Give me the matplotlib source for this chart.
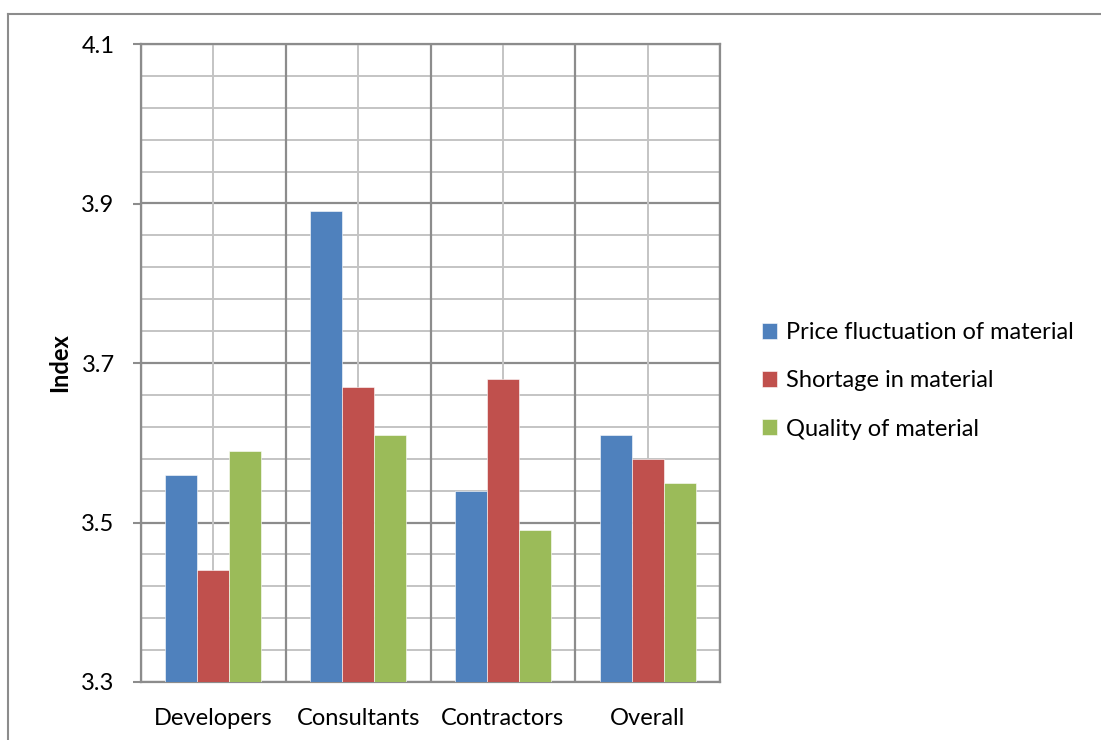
import matplotlib
matplotlib.use("Agg")
import matplotlib.pyplot as plt
import numpy as np
from matplotlib.lines import Line2D

categories = ["Developers", "Consultants", "Contractors", "Overall"]
series_names = ["Price fluctuation of material", "Shortage in material", "Quality of material"]
price = [3.56, 3.89, 3.54, 3.61]
shortage = [3.44, 3.67, 3.68, 3.58]
quality = [3.59, 3.61, 3.49, 3.55]
yticks = [3.3, 3.5, 3.7, 3.9, 4.1]
colors = ["#4F81BD", "#C0504D", "#9BBB59"]

plt.rcParams['font.family'] = ['Lato', 'DejaVu Sans']
FS = 17

fig = plt.figure(figsize=(11.01, 7.40), dpi=100)
ax = fig.add_axes([141/1101, 1-682/740, (720-141)/1101, (682-44)/740])

x = np.arange(len(categories))
bw = 32/145
for i, (vals, name, c) in enumerate(zip([price, shortage, quality], series_names, colors)):
    ax.bar(x + (i-1)*bw, np.array(vals) - 3.3, bottom=3.3, width=bw, color=c,
           edgecolor="white", linewidth=0.4, label=name, zorder=3)

ax.set_xlim(-0.5, len(categories)-0.5)
ax.set_ylim(3.3, 4.1)

# gridlines
for v in np.arange(3.3, 4.1001, 0.04):
    major = any(abs(v - t) < 1e-6 for t in yticks)
    ax.axhline(v, color="#8c8c8c" if major else "#c4c4c4", lw=1.6 if major else 1.4, zorder=1)
for k in range(len(categories)+1):
    ax.axvline(k-0.5, color="#8c8c8c", lw=1.6, zorder=1)
for k in range(len(categories)):
    ax.axvline(k, color="#c4c4c4", lw=1.4, zorder=1)

ax.set_yticks(yticks)
ax.set_yticklabels([f"{t:.1f}" for t in yticks], fontsize=FS)
ax.set_xticks(x)
ax.set_xticklabels(categories, fontsize=FS)
ax.tick_params(axis='y', length=6, width=1.5, color="#8c8c8c", pad=13)
ax.tick_params(axis='x', length=0, pad=19)
for s in ax.spines.values():
    s.set_color("#8c8c8c")
    s.set_linewidth(1.6)
ax.set_ylabel("Index", fontsize=FS, fontweight="bold", labelpad=7)

ax.legend(loc="center left", bbox_to_anchor=(762/1101, 1-381/740), bbox_transform=fig.transFigure,
          frameon=False, fontsize=FS, handlelength=0.65, handleheight=0.65,
          handletextpad=0.35, labelspacing=1.15, borderaxespad=0, borderpad=0)

# outer frame
fig.add_artist(Line2D([8/1101, 8/1101], [0, 1-14/740], transform=fig.transFigure, color="#8c8c8c", lw=1.5))
fig.add_artist(Line2D([8/1101, 1], [1-14/740, 1-14/740], transform=fig.transFigure, color="#8c8c8c", lw=1.5))

fig.savefig("out.png", dpi=100)
